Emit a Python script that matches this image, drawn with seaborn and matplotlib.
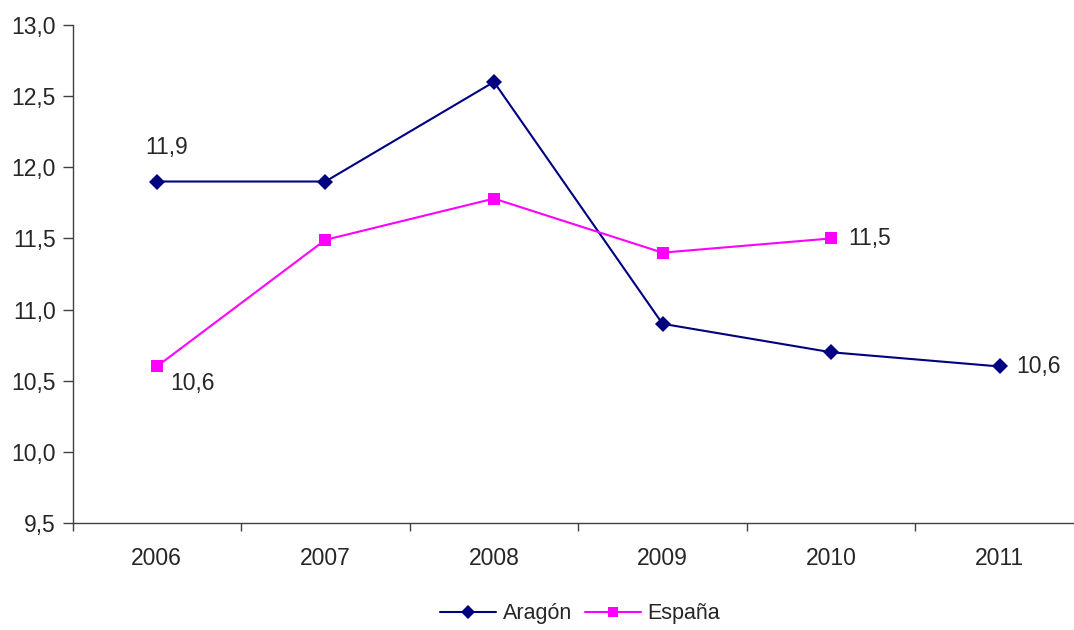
import numpy as np
import pandas as pd
import seaborn as sns
import matplotlib.pyplot as plt
from matplotlib.ticker import FuncFormatter, FixedLocator

# Data
years = ['2006', '2007', '2008', '2009', '2010', '2011']
aragon = [11.9, 11.9, 12.6, 10.9, 10.7, 10.6]
espana = [10.6, 11.49, 11.78, 11.4, 11.5, np.nan]

df = pd.DataFrame({
    'pos': list(range(len(years))) * 2,
    'valor': aragon + espana,
    'serie': ['Aragón'] * len(years) + ['España'] * len(years),
})

sns.set_style('white')
plt.rcParams['font.family'] = ['Liberation Sans', 'DejaVu Sans']
fs = 16.5

fig = plt.figure(figsize=(10.74, 6.3), dpi=100)
ax = fig.add_axes([72.5 / 1074, 107 / 630, 1011.5 / 1074, 498 / 630])

colors = {'Aragón': '#000080', 'España': '#FF00FF'}
markers = {'Aragón': 'D', 'España': 's'}
sns.lineplot(data=df, x='pos', y='valor', hue='serie', style='serie',
             palette=colors, markers=markers, dashes=False, linewidth=1.5,
             markersize=8, markeredgewidth=0, ax=ax, legend=False)

ax.set_xlim(-0.5, 5.5)
ax.set_ylim(9.5, 13.0)
ax.set_xlabel('')
ax.set_ylabel('')

ax.set_yticks(np.arange(9.5, 13.01, 0.5))
ax.yaxis.set_major_formatter(FuncFormatter(lambda v, p: f'{v:.1f}'.replace('.', ',')))
ax.set_xticks(range(len(years)))
ax.set_xticklabels(years)
ax.xaxis.set_minor_locator(FixedLocator(np.arange(-0.5, 5.6, 1)))
ax.tick_params(axis='x', which='major', length=0, pad=17, labelsize=fs)
ax.tick_params(axis='x', which='minor', length=6, width=1, color='#404040', direction='out', bottom=True)
ax.tick_params(axis='y', length=7, width=1, color='#404040', direction='out', left=True, labelsize=fs, pad=5)

for s in ['top', 'right']:
    ax.spines[s].set_visible(False)
for s in ['left', 'bottom']:
    ax.spines[s].set_color('#404040')
    ax.spines[s].set_linewidth(1)

def fmt(v):
    return f'{v:.1f}'.replace('.', ',')

ax.annotate(fmt(aragon[0]), (0, aragon[0]), xytext=(7, 16), textcoords='offset points',
            ha='center', va='bottom', fontsize=fs)
ax.annotate(fmt(espana[0]), (0, espana[0]), xytext=(10, -4), textcoords='offset points',
            ha='left', va='top', fontsize=fs)
ax.annotate(fmt(espana[4]), (4, espana[4]), xytext=(12, 0), textcoords='offset points',
            ha='left', va='center', fontsize=fs)
ax.annotate(fmt(aragon[5]), (5, aragon[5]), xytext=(12, 0), textcoords='offset points',
            ha='left', va='center', fontsize=fs)

handles = [plt.Line2D([], [], color=colors[k], marker=markers[k], markersize=7,
                      markeredgewidth=0, linewidth=1.5) for k in ['Aragón', 'España']]
fig.legend(handles, ['Aragón', 'España'], loc='center', bbox_to_anchor=(0.54, 0.026),
           ncol=2, frameon=False, fontsize=15.5, handlelength=2.6, handletextpad=0.3,
           columnspacing=0.6)

fig.savefig('out.png', dpi=100)
